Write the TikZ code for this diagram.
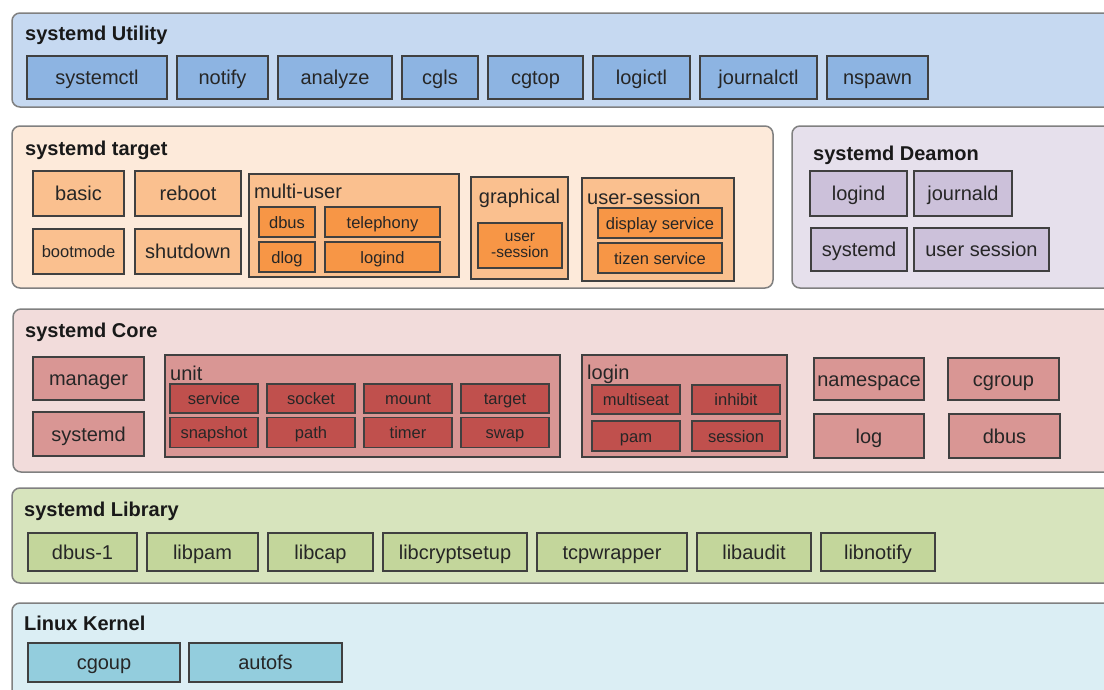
\documentclass[tikz,border=0pt]{standalone}
\usepackage{fontspec}
\setmainfont{Liberation Sans}
\usepackage{tikz}
\usetikzlibrary{positioning}

\definecolor{utilback}{HTML}{C6D9F1}
\definecolor{utilbox}{HTML}{8DB4E2}
\definecolor{targback}{HTML}{FDEADA}
\definecolor{targbox}{HTML}{FAC08F}
\definecolor{targinner}{HTML}{F79646}
\definecolor{daemback}{HTML}{E6E0EC}
\definecolor{daembox}{HTML}{CCC1DA}
\definecolor{coreback}{HTML}{F2DCDB}
\definecolor{corebox}{HTML}{D99694}
\definecolor{coreinner}{HTML}{C0504D}
\definecolor{libback}{HTML}{D7E4BD}
\definecolor{libbox}{HTML}{C3D69B}
\definecolor{kernback}{HTML}{DBEEF4}
\definecolor{kernbox}{HTML}{93CDDD}
\definecolor{layerline}{HTML}{808080}
\definecolor{boxline}{HTML}{404040}
\definecolor{textcol}{HTML}{262626}

\newcommand{\bigtxt}{\fontsize{20}{22}\selectfont}
\newcommand{\smalltxt}{\fontsize{16.5}{18}\selectfont}
\newcommand{\tinytxt}{\fontsize{15.5}{16}\selectfont}
\newcommand{\titletxt}{\fontsize{20}{22}\selectfont\bfseries}

\begin{document}
\begin{tikzpicture}[
    x=1pt, y=-1pt,
    boxsize/.style 2 args = {minimum width=#1pt, minimum height=#2pt},
    layer/.style    = {draw=layerline, line width=1.5pt, rounded corners=8pt,
                       inner sep=0pt, outer sep=0pt},
    box/.style      = {draw=boxline, line width=1.2pt, inner sep=0pt, outer sep=0pt,
                       text=textcol, font=\bigtxt, text height=14.5pt, text depth=0pt},
    smallbox/.style = {box, font=\smalltxt, text height=12pt},
    heading/.style  = {font=\titletxt, text=black!90, inner sep=0pt, anchor=base west},
    subheading/.style = {font=\bigtxt, text=textcol, inner sep=0pt, anchor=base west},
]
    \useasboundingbox (0,0) rectangle (1104,689);
    \clip (0,0) rectangle (1104,689);

    %systemd Utility
    \node[layer, fill=utilback, boxsize={1108}{94}] (utility) at (566,60) {};
    \node[heading] (utilitytitle) at (25,40) {systemd Utility};
    \node[box, fill=utilbox, boxsize={140}{43}] (systemctl) at (97,77.5) {systemctl};
    \node[box, fill=utilbox, boxsize={91}{43},  right=10pt of systemctl] (notify) {notify};
    \node[box, fill=utilbox, boxsize={114}{43}, right=10pt of notify] (analyze) {analyze};
    \node[box, fill=utilbox, boxsize={76}{43},  right=10pt of analyze] (cgls) {cgls};
    \node[box, fill=utilbox, boxsize={95}{43},  right=10pt of cgls] (cgtop) {cgtop};
    \node[box, fill=utilbox, boxsize={97}{43},  right=10pt of cgtop] (logictl) {logictl};
    \node[box, fill=utilbox, boxsize={117}{43}, right=10pt of logictl] (journalctl) {journalctl};
    \node[box, fill=utilbox, boxsize={101}{43}, right=10pt of journalctl] (nspawn) {nspawn};

    %systemd target
    \node[layer, fill=targback, boxsize={761}{162}] (target) at (392.5,207) {};
    \node[heading] (targettitle) at (25,155) {systemd target};
    \node[box, fill=targbox, boxsize={91}{45}] (basic) at (78.5,193.5) {basic};
    \node[box, fill=targbox, boxsize={106}{45}, right=11pt of basic] (reboot) {reboot};
    \node[smallbox, fill=targbox, boxsize={91}{45}] (bootmode) at (78.5,251.5) {bootmode};
    \node[box, fill=targbox, boxsize={106}{45}, right=11pt of bootmode] (shutdown) {shutdown};

    \node[box, fill=targbox, boxsize={210}{103}] (multiuser) at (354,225.5) {};
    \node[subheading] (multiusertitle) at (254,198) {multi-user};
    \node[smallbox, fill=targinner, boxsize={56}{30}] (tdbus) at (287,222) {dbus};
    \node[smallbox, fill=targinner, boxsize={115}{30}, right=10pt of tdbus] (telephony) {telephony};
    \node[smallbox, fill=targinner, boxsize={56}{30}] (dlog) at (287,257) {dlog};
    \node[smallbox, fill=targinner, boxsize={115}{30}, right=10pt of dlog] (tlogind) {logind};

    \node[box, fill=targbox, boxsize={97}{102}] (graphical) at (519.5,228) {};
    \node[subheading, anchor=base] (graphicaltitle) at (519.5,203) {graphical};
    \node[draw=boxline, line width=1.2pt, inner sep=0pt, text=textcol, font=\tinytxt,
          align=center, fill=targinner, boxsize={84}{45}]
        (gusersession) at (520,245.5) {user\\-session};

    \node[box, fill=targbox, boxsize={152}{103}] (usersession) at (658,229.5) {};
    \node[subheading] (usersessiontitle) at (587,204) {user-session};
    \node[smallbox, fill=targinner, boxsize={124}{30}] (display) at (660,223) {display service};
    \node[smallbox, fill=targinner, boxsize={124}{30}] (tizen) at (660,258) {tizen service};

    %systemd Deamon
    \node[layer, fill=daemback, boxsize={328}{162}] (daemon) at (956,207) {};
    \node[heading] (daemontitle) at (813,160) {systemd Deamon};
    \node[box, fill=daembox, boxsize={97}{45}] (dlogind) at (858.5,193.5) {logind};
    \node[box, fill=daembox, boxsize={98}{45}, right=7pt of dlogind] (journald) {journald};
    \node[box, fill=daembox, boxsize={96}{43}] (dsystemd) at (859,249.5) {systemd};
    \node[box, fill=daembox, boxsize={135}{43}, right=7pt of dsystemd] (dusersession) {user session};

    %systemd Core
    \node[layer, fill=coreback, boxsize={1107}{163}] (core) at (566.5,390.5) {};
    \node[heading] (coretitle) at (25,337) {systemd Core};
    \node[box, fill=corebox, boxsize={111}{43}] (manager) at (88.5,378.5) {manager};
    \node[box, fill=corebox, boxsize={111}{44}] (csystemd) at (88.5,434) {systemd};

    \node[box, fill=corebox, boxsize={395}{102}] (unit) at (362.5,406) {};
    \node[subheading] (unittitle) at (170,380) {unit};
    \node[smallbox, fill=coreinner, boxsize={88}{29}] (service) at (214,398.5) {service};
    \node[smallbox, fill=coreinner, boxsize={88}{29}, right=9pt of service] (socket) {socket};
    \node[smallbox, fill=coreinner, boxsize={88}{29}, right=9pt of socket] (mount) {mount};
    \node[smallbox, fill=coreinner, boxsize={88}{29}, right=9pt of mount] (utarget) {target};
    \node[smallbox, fill=coreinner, boxsize={88}{30}] (snapshot) at (214,432.5) {snapshot};
    \node[smallbox, fill=coreinner, boxsize={88}{30}, right=9pt of snapshot] (path) {path};
    \node[smallbox, fill=coreinner, boxsize={88}{30}, right=9pt of path] (timer) {timer};
    \node[smallbox, fill=coreinner, boxsize={88}{30}, right=9pt of timer] (swap) {swap};

    \node[box, fill=corebox, boxsize={205}{102}] (login) at (684.5,406) {};
    \node[subheading] (logintitle) at (587,379) {login};
    \node[smallbox, fill=coreinner, boxsize={88}{29}] (multiseat) at (636,399.5) {multiseat};
    \node[smallbox, fill=coreinner, boxsize={88}{29}, right=12pt of multiseat] (inhibit) {inhibit};
    \node[smallbox, fill=coreinner, boxsize={88}{30}] (pam) at (636,436) {pam};
    \node[smallbox, fill=coreinner, boxsize={88}{30}, right=12pt of pam] (session) {session};

    \node[box, fill=corebox, boxsize={110}{42}] (namespace) at (869,379) {namespace};
    \node[box, fill=corebox, boxsize={111}{42}, right=24pt of namespace] (cgroup) {cgroup};
    \node[box, fill=corebox, boxsize={110}{44}] (log) at (869,436) {log};
    \node[box, fill=corebox, boxsize={111}{44}, right=25pt of log] (cdbus) {dbus};

    %systemd Library
    \node[layer, fill=libback, boxsize={1108}{95}] (library) at (566,535.5) {};
    \node[heading] (librarytitle) at (24,516) {systemd Library};
    \node[box, fill=libbox, boxsize={109}{38}] (dbusone) at (82.5,552) {dbus-1};
    \node[box, fill=libbox, boxsize={111}{38}, right=10pt of dbusone] (libpam) {libpam};
    \node[box, fill=libbox, boxsize={105}{38}, right=10pt of libpam] (libcap) {libcap};
    \node[box, fill=libbox, boxsize={144}{38}, right=10pt of libcap] (libcryptsetup) {libcryptsetup};
    \node[box, fill=libbox, boxsize={150}{38}, right=10pt of libcryptsetup] (tcpwrapper) {tcpwrapper};
    \node[box, fill=libbox, boxsize={114}{38}, right=10pt of tcpwrapper] (libaudit) {libaudit};
    \node[box, fill=libbox, boxsize={114}{38}, right=10pt of libaudit] (libnotify) {libnotify};

    %Linux Kernel
    \node[layer, fill=kernback, boxsize={1108}{107}] (kernel) at (566,656.5) {};
    \node[heading] (kerneltitle) at (24,630) {Linux Kernel};
    \node[box, fill=kernbox, boxsize={152}{39}] (cgoup) at (104,662.5) {cgoup};
    \node[box, fill=kernbox, boxsize={153}{39}, right=9pt of cgoup] (autofs) {autofs};
\end{tikzpicture}
\end{document}
